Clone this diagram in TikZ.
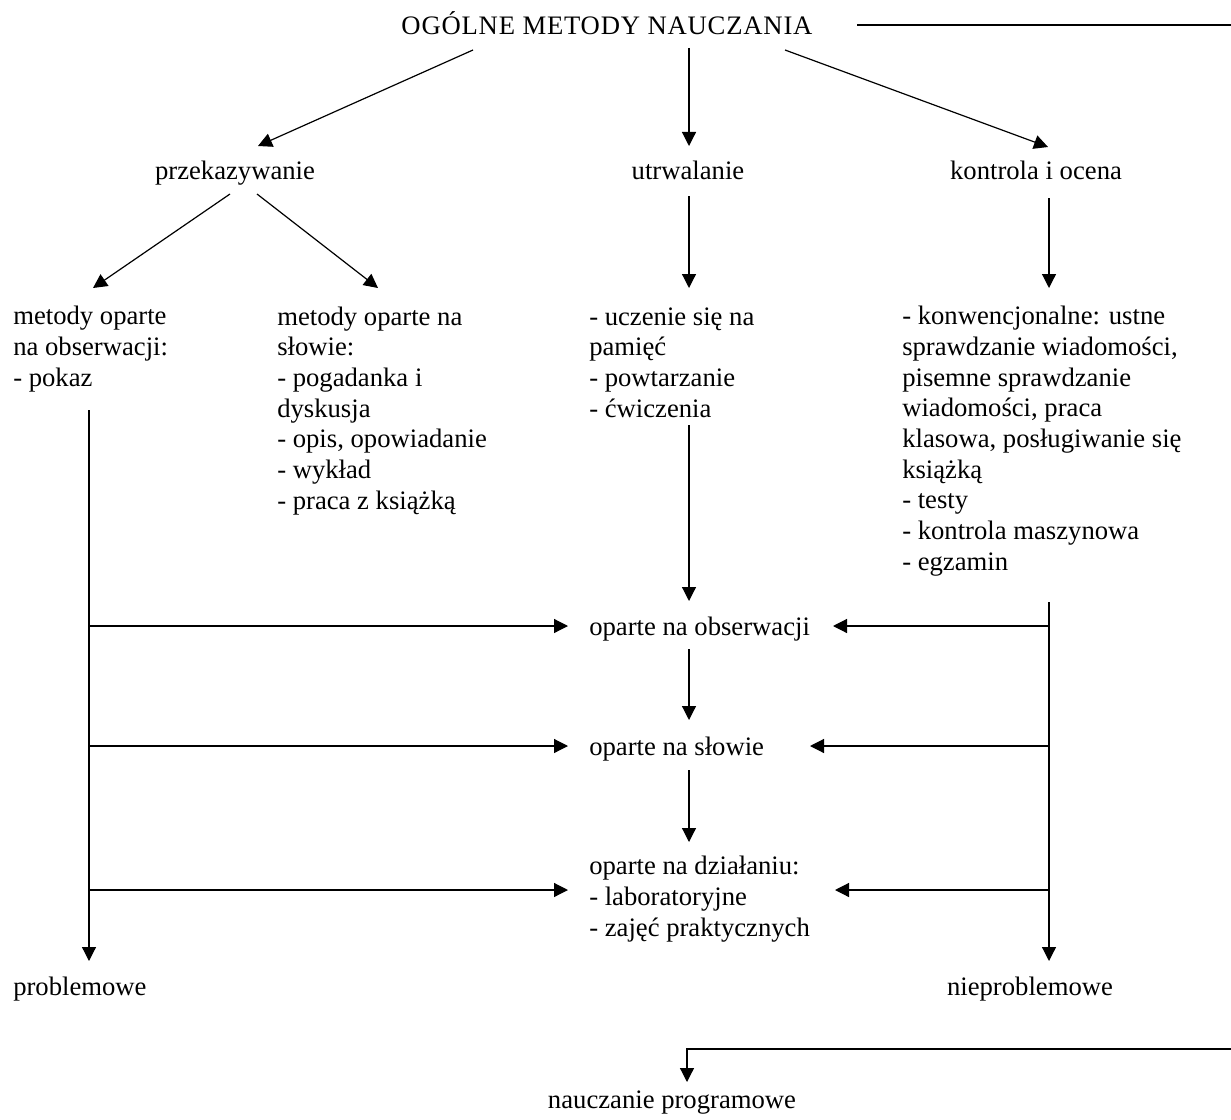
\documentclass[tikz,border=0pt]{standalone}
\usepackage{fontspec}
\setmainfont{Liberation Serif}
\usetikzlibrary{arrows.meta}
\begin{document}
\begin{tikzpicture}[x=0.75pt,y=-0.75pt,
  txt/.style={anchor=base west,inner sep=0pt,align=left,font=\fontsize{20pt}{23pt}\selectfont},
  ctxt/.style={anchor=base,inner sep=0pt,font=\fontsize{20pt}{23pt}\selectfont},
  conn/.style={line width=0.9pt},
  arr/.style={conn,-{Triangle[length=10.5pt,width=10.5pt]}}]
\useasboundingbox (0,0) rectangle (1231,1120);
% texts (multi-line nodes are placed by the baseline of their last line)
\node[ctxt] (title) at (607,35) {\addfontfeature{LetterSpace=3}OGÓLNE METODY NAUCZANIA};
\node[ctxt] (przek) at (235,180) {przekazywanie};
\node[ctxt] (utrw) at (688,180) {utrwalanie};
\node[ctxt] (kontr) at (1036,180) {kontrola i ocena};
\node[txt] (obs) at (13,386.3) {metody oparte\\na obserwacji:\\- pokaz};
\node[txt] (slowo) at (277,509) {metody oparte na\\słowie:\\- pogadanka i\\dyskusja\\- opis, opowiadanie\\- wykład\\- praca z książką};
\node[txt] (pam) at (589,417) {- uczenie się na\\pamięć\\- powtarzanie\\- ćwiczenia};
\node[txt] (konw) at (902,570.3) {- konwencjonalne: ustne\\sprawdzanie wiadomości,\\pisemne sprawdzanie\\wiadomości, praca\\klasowa, posługiwanie się\\książką\\- testy\\- kontrola maszynowa\\- egzamin};
\node[txt] (oobs) at (589,635) {oparte na obserwacji};
\node[txt] (oslowo) at (589,755) {oparte na słowie};
\node[txt] (odzial) at (589,936.3) {oparte na działaniu:\\- laboratoryjne\\- zajęć praktycznych};
\node[txt] (probl) at (13,995) {problemowe};
\node[ctxt] (nieprobl) at (1030,995) {nieproblemowe};
\node[ctxt] (prog) at (672,1108) {nauczanie programowe};
% connector end points
\coordinate (tlA) at (857,25);
\coordinate (tlB) at (1231,25);
\coordinate (t1s) at (473,50);  \coordinate (t1e) at (258,146);
\coordinate (t2s) at (689,48);  \coordinate (t2e) at (689,146);
\coordinate (t3s) at (785,50);  \coordinate (t3e) at (1048,147);
\coordinate (p1s) at (230,194); \coordinate (p1e) at (93,288);
\coordinate (p2s) at (257,194); \coordinate (p2e) at (378,288);
\coordinate (u1s) at (689,196); \coordinate (u1e) at (689,288);
\coordinate (k1s) at (1049,198); \coordinate (k1e) at (1049,288);
\coordinate (m1s) at (689,425); \coordinate (m1e) at (689,601);
\coordinate (m2s) at (689,649); \coordinate (m2e) at (689,720);
\coordinate (m3s) at (689,770); \coordinate (m3e) at (689,842);
\coordinate (Ltop) at (89,410); \coordinate (Lbot) at (89,961);
\coordinate (L1) at (89,626); \coordinate (L1e) at (568,626);
\coordinate (L2) at (89,746); \coordinate (L2e) at (568,746);
\coordinate (L3) at (89,890); \coordinate (L3e) at (568,890);
\coordinate (Rtop) at (1049,602); \coordinate (Rbot) at (1049,961);
\coordinate (R1) at (1049,626); \coordinate (R1e) at (833,626);
\coordinate (R2) at (1049,746); \coordinate (R2e) at (810,746);
\coordinate (R3) at (1049,890); \coordinate (R3e) at (835,890);
\coordinate (bA) at (1231,1049); \coordinate (bB) at (687,1049); \coordinate (bC) at (687,1082);
% connectors
\draw[conn] (tlA) -- (tlB);
\draw[arr] (t1s) -- (t1e);
\draw[arr] (t2s) -- (t2e);
\draw[arr] (t3s) -- (t3e);
\draw[arr] (p1s) -- (p1e);
\draw[arr] (p2s) -- (p2e);
\draw[arr] (u1s) -- (u1e);
\draw[arr] (k1s) -- (k1e);
\draw[arr] (m1s) -- (m1e);
\draw[arr] (m2s) -- (m2e);
\draw[arr] (m3s) -- (m3e);
\draw[arr] (Ltop) -- (Lbot);
\draw[arr] (L1) -- (L1e);
\draw[arr] (L2) -- (L2e);
\draw[arr] (L3) -- (L3e);
\draw[arr] (Rtop) -- (Rbot);
\draw[arr] (R1) -- (R1e);
\draw[arr] (R2) -- (R2e);
\draw[arr] (R3) -- (R3e);
\draw[arr] (bA) -- (bB) -- (bC);
\end{tikzpicture}
\end{document}
